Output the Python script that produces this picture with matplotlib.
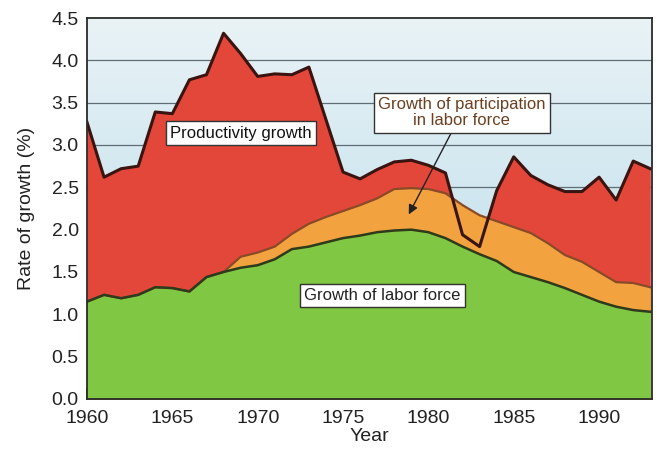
import numpy as np
import matplotlib
matplotlib.use("Agg")
import matplotlib.pyplot as plt
from matplotlib.colors import LinearSegmentedColormap

plt.rcParams['font.family'] = ['Liberation Sans', 'DejaVu Sans']

# data, rates in %
years = list(range(1960, 1994))
labor_force = [1.15, 1.23, 1.19, 1.23, 1.32, 1.31, 1.27, 1.44, 1.50, 1.55,
               1.58, 1.65, 1.77, 1.80, 1.85, 1.90, 1.93, 1.97, 1.99, 2.00,
               1.97, 1.90, 1.80, 1.71, 1.63, 1.50, 1.44, 1.38, 1.31, 1.23,
               1.15, 1.09, 1.05, 1.03]
participation = [0.0, 0.0, 0.0, 0.0, 0.0, 0.0, 0.0, 0.0, 0.0, 0.13,
                 0.15, 0.15, 0.18, 0.27, 0.30, 0.32, 0.36, 0.40, 0.49, 0.49,
                 0.51, 0.53, 0.49, 0.46, 0.47, 0.53, 0.52, 0.46, 0.39, 0.39,
                 0.35, 0.29, 0.32, 0.29]
productivity = [2.12, 1.39, 1.53, 1.52, 2.07, 2.06, 2.50, 2.39, 2.82, 2.40,
                2.08, 2.04, 1.88, 1.85, 1.15, 0.46, 0.31, 0.34, 0.32, 0.33,
                0.28, 0.24, -0.35, -0.37, 0.36, 0.83, 0.68, 0.69, 0.75, 0.83,
                1.12, 0.97, 1.44, 1.40]
y_ticks = [0.0, 0.5, 1.0, 1.5, 2.0, 2.5, 3.0, 3.5, 4.0, 4.5]
x_ticks = [1960, 1965, 1970, 1975, 1980, 1985, 1990]

x = np.array(years)
lab = np.array(labor_force)
part_top = lab + np.array(participation)
total = part_top + np.array(productivity)

fig = plt.figure(figsize=(6.57, 4.49), dpi=100)
ax = fig.add_axes([0.1324, 0.1114, 0.860, 0.8485])

# background gradient
bg = LinearSegmentedColormap.from_list("bg", ["#c6e2ee", "#e9f3f6"])
grad = np.linspace(0, 1, 256).reshape(-1, 1)
ax.imshow(grad, cmap=bg, aspect='auto', origin='lower',
          extent=[1960, 1993.1, 1.5, 4.5], zorder=0)
for g in [2.5, 3.0, 3.5, 4.0]:
    ax.axhline(g, color='#5f6e74', lw=0.9, zorder=1)

ax.fill_between(x, 0, total, color='#e2473a', lw=0, zorder=2)
ax.fill_between(x, 0, part_top, color='#f2a23e', lw=0, zorder=3)
ax.fill_between(x, 0, lab, color='#80c843', lw=0, zorder=4)

ax.plot(x, part_top, color='#8a4a28', lw=1.6, zorder=5)
ax.plot(x, lab, color='#2f3a1c', lw=1.8, zorder=6)
ax.plot(x, total, color='#3a1410', lw=2.2, zorder=7)

box = dict(boxstyle='square,pad=0.25', fc='white', ec='#333333', lw=1.0)
ax.text(1969.0, 3.14, "Productivity growth", fontsize=12, ha='center',
        va='center', color='#111111', bbox=box, zorder=10)
ax.text(1977.3, 1.22, "Growth of labor force", fontsize=12, ha='center',
        va='center', color='#222222', bbox=box, zorder=10)
ax.annotate("Growth of participation\nin labor force", xy=(1978.85, 2.18),
            xytext=(1981.95, 3.38), fontsize=12, ha='center', va='center',
            color='#6b3f1f', linespacing=1.1, bbox=box, zorder=10,
            arrowprops=dict(arrowstyle='-|>', color='#222222', lw=1.0,
                            mutation_scale=14, shrinkA=0, shrinkB=0))

ax.set_xlim(1960, 1993.1)
ax.set_ylim(0, 4.5)
ax.set_xticks(x_ticks)
ax.set_yticks(y_ticks)
ax.set_yticklabels([f"{v:.1f}" for v in y_ticks])
ax.tick_params(axis='x', direction='in', length=8, width=1.2,
               color='#3d6a20', labelsize=14, pad=8)
ax.tick_params(axis='y', length=0, labelsize=14, pad=6)
for t in ax.get_xticklabels() + ax.get_yticklabels():
    t.set_color('#222222')
for s in ax.spines.values():
    s.set_color('#2a2a2a')
    s.set_linewidth(1.3)
    s.set_zorder(8)

ax.set_xlabel("Year", fontsize=14, color='#222222', labelpad=1)
ax.set_ylabel("Rate of growth (%)", fontsize=14, color='#222222', labelpad=12)

fig.savefig("out.png", dpi=100)
